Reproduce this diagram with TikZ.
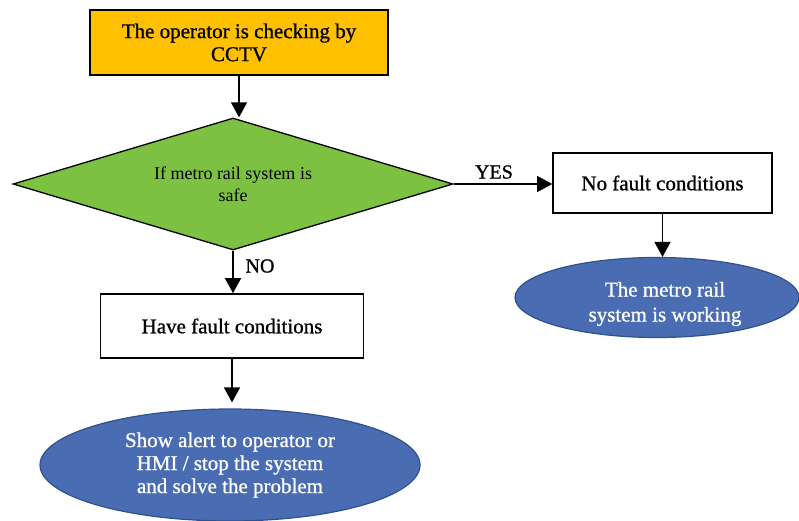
\documentclass[tikz,border=0pt]{standalone}
\usepackage{fontspec}
\setmainfont{Liberation Serif}
\newfontfamily\heavyserif[FakeBold=0.9]{Liberation Serif}
\usetikzlibrary{shapes.geometric,arrows.meta}

\definecolor{startfill}{HTML}{FFC000}
\definecolor{decisionfill}{HTML}{7DC142}
\definecolor{endfill}{HTML}{4A6CB2}
\definecolor{endline}{HTML}{2F528F}

\tikzset{
  flowtext/.style={font=\heavyserif\fontsize{21}{23}\selectfont, align=center},
  procbox/.style={flowtext, rectangle, draw=black, line width=1.6pt, fill=white, inner sep=0pt},
  decision/.style={diamond, aspect=3.333, draw=black, line width=1.3pt, fill=decisionfill, inner sep=0pt,
    font=\fontsize{18}{22}\selectfont, align=center},
  terminal/.style={flowtext, ellipse, draw=endline, line width=1.2pt, fill=endfill, text=white, inner sep=0pt},
  arr/.style={line width=1.4pt, -{Triangle[length=15pt,width=16pt]}},
  edgelabel/.style={font=\heavyserif\fontsize{20}{22}\selectfont}
}

\begin{document}
\begin{tikzpicture}[x=1pt,y=-1pt]
  \useasboundingbox (0,0) rectangle (799,521);

  % process steps
  \node[procbox, fill=startfill, minimum width=298pt, minimum height=65pt] (check) at (239,42.5)
    {The operator is checking by\\CCTV};
  \node[decision, minimum width=440pt, minimum height=132pt] (safe) at (233,184)
    {If metro rail system is\\safe};
  \node[procbox, minimum width=263pt, minimum height=64pt] (fault) at (232,326)
    {Have fault conditions};
  \node[procbox, minimum width=219pt, minimum height=60pt] (nofault) at (662.5,183)
    {No fault conditions};

  % end states
  \node[terminal, minimum width=380pt, minimum height=112pt] (alert) at (230,465)
    {Show alert to operator or\\HMI / stop the system\\and solve the problem};
  \node[terminal, minimum width=284pt, minimum height=80pt] (working) at (657,297.5) {};
  \node[flowtext, text=white, font=\heavyserif\fontsize{21}{25}\selectfont] (workingtext) at (665,304)
    {The metro rail\\system is working};

  % connectors
  \draw[arr] (check.south) -- (check.south |- safe.north);
  \draw[arr] (safe.south) -- (safe.south |- fault.north);
  \draw[arr, shorten >=6pt] (fault.south) -- (fault.south |- alert.north);
  \draw[arr] (safe.east) -- (safe.east -| nofault.west);
  \draw[arr] (nofault.south) -- (nofault.south |- working.north);

  % branch labels
  \node[edgelabel] (yes) at (494,172) {YES};
  \node[edgelabel] (no) at (260,266) {NO};
\end{tikzpicture}
\end{document}
